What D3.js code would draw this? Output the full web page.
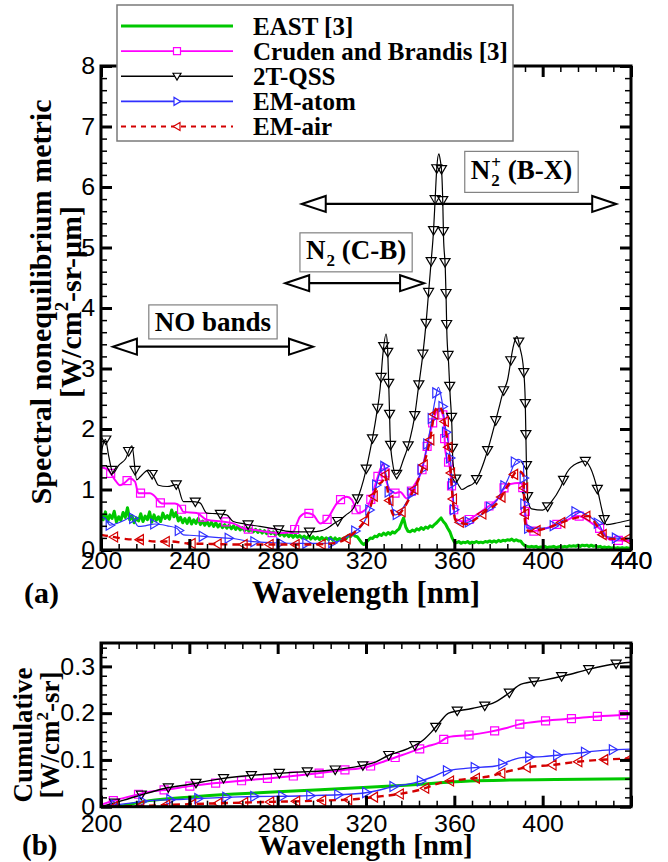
<!DOCTYPE html>
<html>
<head>
<meta charset="utf-8">
<script src="https://cdn.jsdelivr.net/npm/d3@7"></script>
<style>
  body { margin: 0; background: #fff; }
  svg text { font-family: "Liberation Serif", "Times New Roman", serif; font-weight: bold; }
  svg .tick text { font-family: "Liberation Sans", Arial, sans-serif; font-weight: normal; }
</style>
</head>
<body>
<svg id="chart" width="668" height="862"></svg>
<script>
//data (a): spectral nonequilibrium metric [W/cm2-sr-um] vs wavelength [nm]
var eastStart = 200, eastStep = 1;   // EAST spectrum sampled every 1 nm from 200 nm
var eastMetric = [
  0.60,0.50,0.63,0.47,0.58,0.52,0.64,0.46,0.55,0.49,0.62,0.54,0.70,0.50,0.57,0.45,0.53,0.48,0.60,0.47,
  0.56,0.50,0.63,0.46,0.58,0.49,0.55,0.47,0.61,0.52,0.57,0.51,0.66,0.55,0.62,0.48,0.54,0.45,0.52,0.44,
  0.53,0.43,0.50,0.44,0.52,0.42,0.48,0.41,0.47,0.40,0.46,0.39,0.45,0.38,0.43,0.37,0.42,0.36,0.41,0.35,
  0.40,0.34,0.39,0.33,0.37,0.32,0.36,0.31,0.35,0.30,0.34,0.29,0.33,0.28,0.32,0.27,0.31,0.27,0.30,0.25,
  0.29,0.24,0.28,0.23,0.27,0.22,0.26,0.21,0.25,0.21,0.24,0.20,0.23,0.19,0.23,0.18,0.22,0.18,0.21,0.17,
  0.21,0.17,0.20,0.17,0.21,0.16,0.20,0.16,0.19,0.17,0.20,0.19,0.24,0.22,0.27,0.23,0.22,0.17,0.12,0.09,
  0.12,0.16,0.20,0.19,0.23,0.22,0.26,0.24,0.28,0.25,0.29,0.26,0.30,0.28,0.32,0.35,0.44,0.53,0.38,0.31,
  0.30,0.33,0.31,0.35,0.33,0.37,0.34,0.38,0.36,0.40,0.38,0.42,0.45,0.49,0.53,0.47,0.43,0.36,0.30,0.20,
  0.13,0.12,0.14,0.11,0.13,0.12,0.14,0.11,0.13,0.12,0.14,0.12,0.13,0.12,0.14,0.13,0.15,0.13,0.15,0.13,
  0.16,0.14,0.16,0.15,0.17,0.16,0.18,0.15,0.17,0.15,0.15,0.10,0.07,0.06,0.05,0.06,0.05,0.06,0.04,0.05,
  0.05,0.06,0.04,0.05,0.05,0.06,0.04,0.05,0.06,0.05,0.06,0.05,0.07,0.06,0.07,0.06,0.08,0.06,0.08,0.07,
  0.08,0.06,0.08,0.06,0.07,0.05,0.06,0.04,0.05,0.04,0.05,0.03,0.04,0.03,0.04,0.03,0.04,0.03,0.04,0.03,
  0.03
];
var crudenMetric = [[200,1.37],[203,1.33],[206.3,1.16],[208.6,1.07],[211,1.12],[213.1,1.18],[215.4,1.13],[216.9,0.94],
  [222.2,0.94],[224,0.90],[227.5,0.77],[233.5,0.77],[235.8,0.72],[237.3,0.63],[243.4,0.61],[247.9,0.50],[255,0.47],
  [259.9,0.44],[264.4,0.36],[270,0.33],[275,0.30],[281,0.28],[287,0.30],[288.7,0.44],[290.1,0.55],[293.1,0.61],
  [296.1,0.58],[299.2,0.44],[302.2,0.50],[306.8,0.77],[311.3,0.88],[313.6,0.83],[316.6,0.61],[319.6,0.66],[322.6,0.88],
  [324.9,1.16],[327.9,1.43],[329.1,1.16],[331,0.99],[333.2,0.94],[335.5,0.96],[338.5,0.85],[341.5,1.05],[345.3,1.32],
  [348.3,1.82],[350.6,2.15],[352.8,2.34],[355.1,2.20],[355.9,1.65],[358.1,1.32],[358.9,0.99],[360.4,0.52],[364.2,0.47],
  [368.7,0.55],[374.6,0.70],[379.3,0.83],[384,1.08],[390.4,1.11],[391.6,0.86],[392.8,0.42],[395.2,0.31],[401.6,0.36],
  [409.6,0.47],[416,0.56],[422.4,0.44],[427.2,0.31],[430.4,0.17],[440,0.15]];
var qssMetric = [[200,1.60],[202,1.83],[203.5,1.55],[205.5,1.27],[208,1.40],[211,1.50],[214,1.72],[216.2,1.16],[218,1.22],
  [221.4,1.32],[224,1.20],[226,1.07],[230,1.05],[234.3,1.08],[237.3,0.80],[241,0.80],[244.8,0.78],[247.9,0.61],[252,0.60],
  [256.9,0.58],[259.9,0.47],[265,0.43],[272,0.39],[280,0.34],[287,0.30],[295,0.30],[300,0.32],[303.7,0.39],[306,0.45],
  [308.3,0.50],[311,0.58],[314.3,0.69],[316.5,0.88],[318.9,1.16],[321.9,1.65],[324.6,2.20],[326.4,2.67],[327.6,3.22],
  [329.1,3.57],[329.7,3.39],[330.2,2.86],[330.6,2.35],[331,1.82],[332,1.45],[333.5,1.25],[335,1.30],[337,1.50],[338.5,1.65],
  [340,1.85],[341.9,2.18],[343.8,2.70],[345.7,3.22],[347.2,3.75],[348.3,4.24],[349.5,4.77],[350.6,5.29],[351.3,5.79],
  [352.1,6.34],[353.0,6.55],[353.6,6.45],[354.3,6.23],[354.8,5.70],[355.1,5.18],[355.9,4.66],[356.3,4.13],[356.6,3.61],
  [357.4,3.09],[358.1,2.56],[358.9,2.04],[359.3,1.49],[360.5,1.20],[362.3,1.05],[363.4,1.00],[366,1.05],[368.7,1.10],
  [371.7,1.29],[374,1.52],[376.2,1.79],[380,2.32],[382,2.60],[384.1,2.81],[386.5,3.33],[388.3,3.53],[389.8,3.33],
  [391.3,3.00],[392.1,2.48],[392.6,1.50],[393.4,0.80],[395,0.68],[400,0.66],[404,0.80],[408,1.03],[411,1.28],[416,1.44],
  [419,1.47],[421.6,1.36],[424.8,1.00],[427,0.64],[428.8,0.42],[434,0.45],[440,0.50]];
var atomMetric = [[200,0.55],[202,0.52],[204.1,0.41],[208,0.45],[211,0.50],[213.9,0.55],[216.9,0.39],[220,0.40],[224.5,0.43],
  [230,0.40],[234.3,0.36],[237.3,0.25],[242,0.24],[247.9,0.22],[255,0.20],[259.9,0.19],[266,0.15],[272,0.13],[278.1,0.12],
  [290,0.11],[300,0.11],[305,0.12],[309.7,0.18],[314.3,0.29],[318.9,0.44],[322.6,0.77],[325.7,1.21],[327.9,1.43],[329.1,1.24],
  [331,0.83],[333.2,0.58],[335.5,0.63],[338.5,0.80],[342.3,1.05],[346,1.43],[349,1.98],[351.3,2.48],[352.8,2.69],[354.3,2.48],
  [355.9,2.04],[358.1,1.54],[359.3,0.99],[360.4,0.50],[362.6,0.43],[368.7,0.50],[374.8,0.66],[379.3,0.83],[384,1.15],
  [388.8,1.50],[391.2,1.44],[392,0.58],[392.8,0.36],[401.6,0.36],[409.6,0.50],[416,0.64],[420.8,0.56],[425.6,0.42],
  [428.8,0.22],[440,0.18]];
var airMetric = [[200,0.25],[205,0.22],[211.6,0.18],[218,0.17],[224.5,0.14],[232,0.14],[238.8,0.11],[250,0.10],[265,0.09],
  [280,0.09],[295,0.09],[305,0.11],[309.7,0.16],[315,0.30],[321.1,0.61],[324.9,1.05],[327.9,1.16],[328.5,1.25],[329.5,1.05],
  [331,0.72],[333.2,0.55],[335.5,0.61],[340,0.88],[345.3,1.32],[349,1.82],[351.3,2.31],[352.8,2.37],[354.5,2.30],[356.6,1.87],
  [358.1,1.40],[359.3,0.83],[360.4,0.50],[365.7,0.43],[370,0.52],[374.8,0.66],[379.3,0.77],[384,1.05],[388.8,1.31],
  [391.2,1.25],[392,0.47],[393.6,0.31],[401.6,0.36],[409.6,0.47],[416,0.54],[420.8,0.56],[425,0.38],[428.8,0.19],[440,0.18]];

//data (b): cumulative [W/cm2-sr]
var eastCum = [[208,0],[221.9,0.013],[241.2,0.021],[260.6,0.027],[280,0.032],[299.3,0.036],[318.7,0.041],[338,0.046],
  [353.5,0.051],[367,0.055],[386.4,0.057],[405.8,0.058],[440,0.060]];
var crudenCum = [[200,0.004],[206.4,0.014],[214,0.023],[221.9,0.032],[230.6,0.037],[240.3,0.044],[250.9,0.050],[262.5,0.055],
  [274.2,0.060],[285.8,0.065],[297.4,0.071],[309,0.078],[320.6,0.085],[326.4,0.094],[336.1,0.110],[347.7,0.129],[352.6,0.136],
  [357.4,0.149],[366.1,0.153],[375.8,0.160],[382.6,0.167],[389.3,0.176],[400,0.183],[409.7,0.187],[421.3,0.192],[431.9,0.195],
  [440,0.197]];
var qssCum = [[200,0],[210.3,0.014],[218,0.025],[228.7,0.039],[240.3,0.048],[251.9,0.058],[263.5,0.065],[276.1,0.070],
  [288.7,0.074],[301.3,0.077],[313.8,0.084],[324.5,0.096],[330.3,0.110],[339,0.124],[345.8,0.142],[349.7,0.160],[353.5,0.181],
  [357.4,0.200],[368,0.210],[378.7,0.224],[384.5,0.242],[390.3,0.262],[400,0.270],[410.6,0.281],[420.3,0.293],[431,0.304],
  [440,0.309]];
var atomCum = [[200,0],[212.2,0.007],[221.9,0.013],[237.4,0.016],[262.5,0.021],[289.6,0.023],[313.8,0.027],[322.6,0.032],
  [332.2,0.043],[341.9,0.051],[349.7,0.063],[355.5,0.075],[365.1,0.082],[378.7,0.087],[386.4,0.100],[390.3,0.105],[400,0.107],
  [414.5,0.114],[429,0.121],[440,0.123]];
var airCum = [[200,0],[212,0.001],[231.6,0.004],[250.9,0.007],[274.2,0.010],[299.3,0.013],[314.8,0.016],[324.5,0.021],
  [336.1,0.028],[345.8,0.038],[353.5,0.051],[363.2,0.058],[374.8,0.064],[386.4,0.078],[394.2,0.085],[403.9,0.089],
  [415.5,0.096],[429,0.101],[440,0.103]];

//ticks and labels
var seriesNames = ["EAST [3]", "Cruden and Brandis [3]", "2T-QSS", "EM-atom", "EM-air"];
var xTicksA = [200, 240, 280, 320, 360, 400, 440],
    xTicksB = [200, 240, 280, 320, 360, 400],
    yTicksA = [0, 1, 2, 3, 4, 5, 6, 7, 8],
    yTicksB = [0, 0.1, 0.2, 0.3];
// band annotations: label parts, arrow span and level, label centre (data units)
var bands = [
  {sub: null, sup: null, head: "NO bands", tail: "", x1: 205.4, x2: 296, y: 3.36, cx: 250.7, cy: 3.77},
  {sub: "2", sup: null, head: "N", tail: " (C-B)", x1: 283.4, x2: 346.3, y: 4.41, cx: 315.5, cy: 4.92},
  {sub: "2", sup: "+", head: "N", tail: " (B-X)", x1: 290.9, x2: 433.3, y: 5.72, cx: 390.4, cy: 6.25}
];

//styles
var style = [
  {color: "#00c800", w: 3,   dash: null,  mark: null,     wb: 3},
  {color: "#ff00ff", w: 2,   dash: null,  mark: "square", wb: 2},
  {color: "#000000", w: 1.2, dash: null,  mark: "down",   wb: 1.4},
  {color: "#3030ff", w: 1.2, dash: null,  mark: "right",  wb: 1.4},
  {color: "#d40000", w: 2.4, dash: "7,5", mark: "left",   wb: 2.4}
];
var tickFont = 24, tickStretch = 1.04;   // tick digits are drawn slightly wide in the original

var svg = d3.select("#chart");
var area = {l: 101, r: 631, topA: 66, botA: 550, topB: 643, botB: 806.7};
var xA = d3.scaleLinear().domain([200, 440]).range([area.l, area.r]),
    yA = d3.scaleLinear().domain([0, 8]).range([area.botA, area.topA]),
    xB = d3.scaleLinear().domain([200, 440]).range([area.l, area.r]),
    yB = d3.scaleLinear().domain([0, 0.35]).range([area.botB, area.topB]);

function symbolPath(kind, s) {
  var h = s / 2;
  if (kind == "square") return "M" + (-h) + "," + (-h) + "H" + h + "V" + h + "H" + (-h) + "Z";
  if (kind == "down") return "M" + (-h) + "," + (-h * 0.75) + "L" + h + "," + (-h * 0.75) + "L0," + (h * 0.95) + "Z";
  if (kind == "right") return "M" + (-h * 0.75) + "," + (-h) + "L" + (h * 0.95) + ",0L" + (-h * 0.75) + "," + h + "Z";
  return "M" + (h * 0.75) + "," + (-h) + "L" + (-h * 0.95) + ",0L" + (h * 0.75) + "," + h + "Z";
}

function placeMarkers(g, node, every, st) {
  var len = node.getTotalLength();
  var size = st.mark == "square" ? 8 : 10;
  for (var d = every * 0.5; d < len; d += every) {
    var p = node.getPointAtLength(d);
    g.append("path").attr("d", symbolPath(st.mark, size))
     .attr("transform", "translate(" + p.x + "," + p.y + ")")
     .attr("fill", "none").attr("stroke", st.color).attr("stroke-width", 1.2);
  }
}

function drawCurves(id, x, y, list, top, bot, every, widthKey) {
  svg.append("clipPath").attr("id", id).append("rect")
     .attr("x", area.l).attr("y", top).attr("width", area.r - area.l).attr("height", bot - top);
  var g = svg.append("g").attr("clip-path", "url(#" + id + ")");
  for (var i = 0; i < list.length; i++) {
    var st = style[i];
    var line = d3.line().x(function(d) { return x(d[0]); }).y(function(d) { return y(d[1]); })
                 .curve(i == 0 && widthKey == "w" ? d3.curveLinear : d3.curveMonotoneX);
    var path = g.append("path").datum(list[i]).attr("d", line).attr("fill", "none")
                .attr("stroke", st.color).attr("stroke-width", st[widthKey])
                .attr("stroke-linejoin", "round")
                .attr("stroke-dasharray", st.dash);
    if (st.mark) placeMarkers(g, path.node(), every[i], st);
  }
}

function drawFrame(x, y, top, bot, xTicks, yTicks, yFmt, yMinorStep, yMax, xPad) {
  var g = svg.append("g");
  var xMinor = d3.range(200, 441, 8).filter(function(v) { return v % 40 != 0; }),
      yMinor = d3.range(0, yMax + 1e-9, yMinorStep);
  function style_ticks(sel, w) {
    sel.select(".domain").remove();
    sel.selectAll(".tick line").attr("stroke", "#000").attr("stroke-width", w);
    sel.selectAll(".tick text").attr("fill", "#000").attr("font-size", tickFont)
       .attr("x", function() { return (+d3.select(this).attr("x") || 0) / tickStretch; })
       .attr("transform", "scale(" + tickStretch + ",1)");
  }
  // major ticks, labelled on bottom and left
  g.append("g").attr("transform", "translate(0," + bot + ")")
   .call(d3.axisBottom(x).tickValues(xTicks.concat([440])).tickSize(-11).tickPadding(xPad)
          .tickFormat(function(d) { return xTicks.indexOf(d) >= 0 ? d : ""; }))
   .call(style_ticks, 3);
  g.append("g").attr("transform", "translate(0," + top + ")")
   .call(d3.axisTop(x).tickValues(xTicksA).tickSize(-11).tickFormat(""))
   .call(style_ticks, 3);
  g.append("g").attr("transform", "translate(" + area.l + ",0)")
   .call(d3.axisLeft(y).tickValues(yTicks).tickSize(-11).tickPadding(6).tickFormat(yFmt))
   .call(style_ticks, 3);
  g.append("g").attr("transform", "translate(" + area.r + ",0)")
   .call(d3.axisRight(y).tickValues(yTicks).tickSize(-11).tickFormat(""))
   .call(style_ticks, 3);
  // minor ticks
  g.append("g").attr("transform", "translate(0," + bot + ")")
   .call(d3.axisBottom(x).tickValues(xMinor).tickSize(-6).tickFormat("")).call(style_ticks, 1.5);
  g.append("g").attr("transform", "translate(0," + top + ")")
   .call(d3.axisTop(x).tickValues(xMinor).tickSize(-6).tickFormat("")).call(style_ticks, 1.5);
  g.append("g").attr("transform", "translate(" + area.l + ",0)")
   .call(d3.axisLeft(y).tickValues(yMinor).tickSize(-6).tickFormat("")).call(style_ticks, 1.5);
  g.append("g").attr("transform", "translate(" + area.r + ",0)")
   .call(d3.axisRight(y).tickValues(yMinor).tickSize(-6).tickFormat("")).call(style_ticks, 1.5);
  g.append("rect").attr("x", area.l).attr("y", top).attr("width", area.r - area.l).attr("height", bot - top)
   .attr("fill", "none").attr("stroke", "#000").attr("stroke-width", 3);
}

function yTitle(cx, cy, line1, pre, sup, post, size) {
  svg.append("text").attr("transform", "translate(" + cx[0] + "," + cy + ") rotate(-90)")
     .attr("text-anchor", "middle").attr("font-size", size).text(line1);
  var t2 = svg.append("text").attr("transform", "translate(" + cx[1] + "," + cy + ") rotate(-90)")
              .attr("text-anchor", "middle").attr("font-size", size);
  t2.append("tspan").text(pre);
  t2.append("tspan").attr("font-size", size * 0.62).attr("dy", -size * 0.42).text(sup);
  t2.append("tspan").attr("dy", size * 0.42).text(post);
}

//panel (a)
drawCurves("clipA", xA, yA, [
  eastMetric.map(function(v, i) { return [eastStart + i * eastStep, v]; }),
  crudenMetric, qssMetric, atomMetric, airMetric
], area.topA, area.botA, [0, 24, 31, 26, 26], "w");
drawFrame(xA, yA, area.topA, area.botA, xTicksA, yTicksA, function(d) { return d; }, 0.2, 8, 2);

//band annotations
bands.forEach(function(b) {
  var g = svg.append("g");
  var ay = yA(b.y), ax1 = xA(b.x1), ax2 = xA(b.x2), hl = 24, hw = 8;
  g.append("line").attr("x1", ax1 + hl).attr("x2", ax2 - hl).attr("y1", ay).attr("y2", ay)
   .attr("stroke", "#000").attr("stroke-width", 2.2);
  g.append("path").attr("d", "M" + ax1 + "," + ay + "L" + (ax1 + hl) + "," + (ay - hw) + "L" + (ax1 + hl) + "," + (ay + hw) + "Z")
   .attr("fill", "#fff").attr("stroke", "#000").attr("stroke-width", 2);
  g.append("path").attr("d", "M" + ax2 + "," + ay + "L" + (ax2 - hl) + "," + (ay - hw) + "L" + (ax2 - hl) + "," + (ay + hw) + "Z")
   .attr("fill", "#fff").attr("stroke", "#000").attr("stroke-width", 2);
  // label
  var fs = 27, lg = g.append("g");
  var head = lg.append("text").attr("font-size", fs).attr("x", 0).attr("y", 0).text(b.head);
  var xx = head.node().getComputedTextLength();
  var smallW = 0;
  if (b.sup) {
    var sp = lg.append("text").attr("font-size", 17).attr("x", xx + 1).attr("y", -11).text(b.sup);
    smallW = Math.max(smallW, sp.node().getComputedTextLength());
  }
  if (b.sub) {
    var sb = lg.append("text").attr("font-size", 17).attr("x", xx + 1).attr("y", 7).text(b.sub);
    smallW = Math.max(smallW, sb.node().getComputedTextLength());
  }
  if (b.tail) lg.append("text").attr("font-size", fs).attr("x", xx + smallW + 1).attr("y", 0)
                .attr("xml:space", "preserve").text(b.tail);
  var bb = lg.node().getBBox();
  var tx = xA(b.cx) - (bb.x + bb.width / 2), ty = yA(b.cy) - (bb.y + bb.height / 2);
  lg.attr("transform", "translate(" + tx + "," + ty + ")");
  g.insert("rect", "g").attr("x", bb.x + tx - 6).attr("y", bb.y + ty - 2)
   .attr("width", bb.width + 12).attr("height", bb.height + 4)
   .attr("fill", "#fff").attr("stroke", "#808080").attr("stroke-width", 1.2);
});

//legend
var leg = svg.append("g");
leg.append("rect").attr("x", 117).attr("y", 5).attr("width", 396).attr("height", 136)
   .attr("fill", "#fff").attr("stroke", "#7a7a7a").attr("stroke-width", 1.5);
var rowY = d3.scalePoint().domain(seriesNames).range([26, 126.5]);
seriesNames.forEach(function(name, i) {
  var st = style[i], yy = rowY(name);
  leg.append("line").attr("x1", 121).attr("x2", 233).attr("y1", yy).attr("y2", yy)
     .attr("stroke", st.color).attr("stroke-width", i == 0 ? 3 : (i == 4 ? 2.2 : 1.6))
     .attr("stroke-dasharray", i == 4 ? "5,5" : null);
  if (st.mark) leg.append("path").attr("d", symbolPath(st.mark, st.mark == "square" ? 7 : 8))
                  .attr("transform", "translate(177," + yy + ")")
                  .attr("fill", "#fff").attr("stroke", st.color).attr("stroke-width", 1.2);
  leg.append("text").attr("x", 253).attr("y", yy + 8.5).attr("font-size", 25).text(name);
});

yTitle([51, 81], 302, "Spectral nonequilibrium metric", "[W/cm", "2", "-sr-\u03bcm]", 30);
svg.append("text").attr("x", xA(320)).attr("y", 603).attr("text-anchor", "middle").attr("font-size", 31).text("Wavelength [nm]");
svg.append("text").attr("x", 24).attr("y", 603).attr("font-size", 30).text("(a)");

//panel (b)
drawCurves("clipB", xB, yB, [eastCum, crudenCum, qssCum, atomCum, airCum], area.topB, area.botB, [0, 26, 28, 28, 26], "wb");
drawFrame(xB, yB, area.topB, area.botB, xTicksB, yTicksB, function(d) { return d == 0 ? "0" : d3.format(".1f")(d); }, 0.02, 0.35, 8);

yTitle([32, 59], 735, "Cumulative", "[W/cm", "2", "-sr]", 27);
svg.append("text").attr("x", xB(320)).attr("y", 855).attr("text-anchor", "middle").attr("font-size", 29).text("Wavelength [nm]");
svg.append("text").attr("x", 22).attr("y", 855).attr("font-size", 29).text("(b)");
</script>
</body>
</html>
